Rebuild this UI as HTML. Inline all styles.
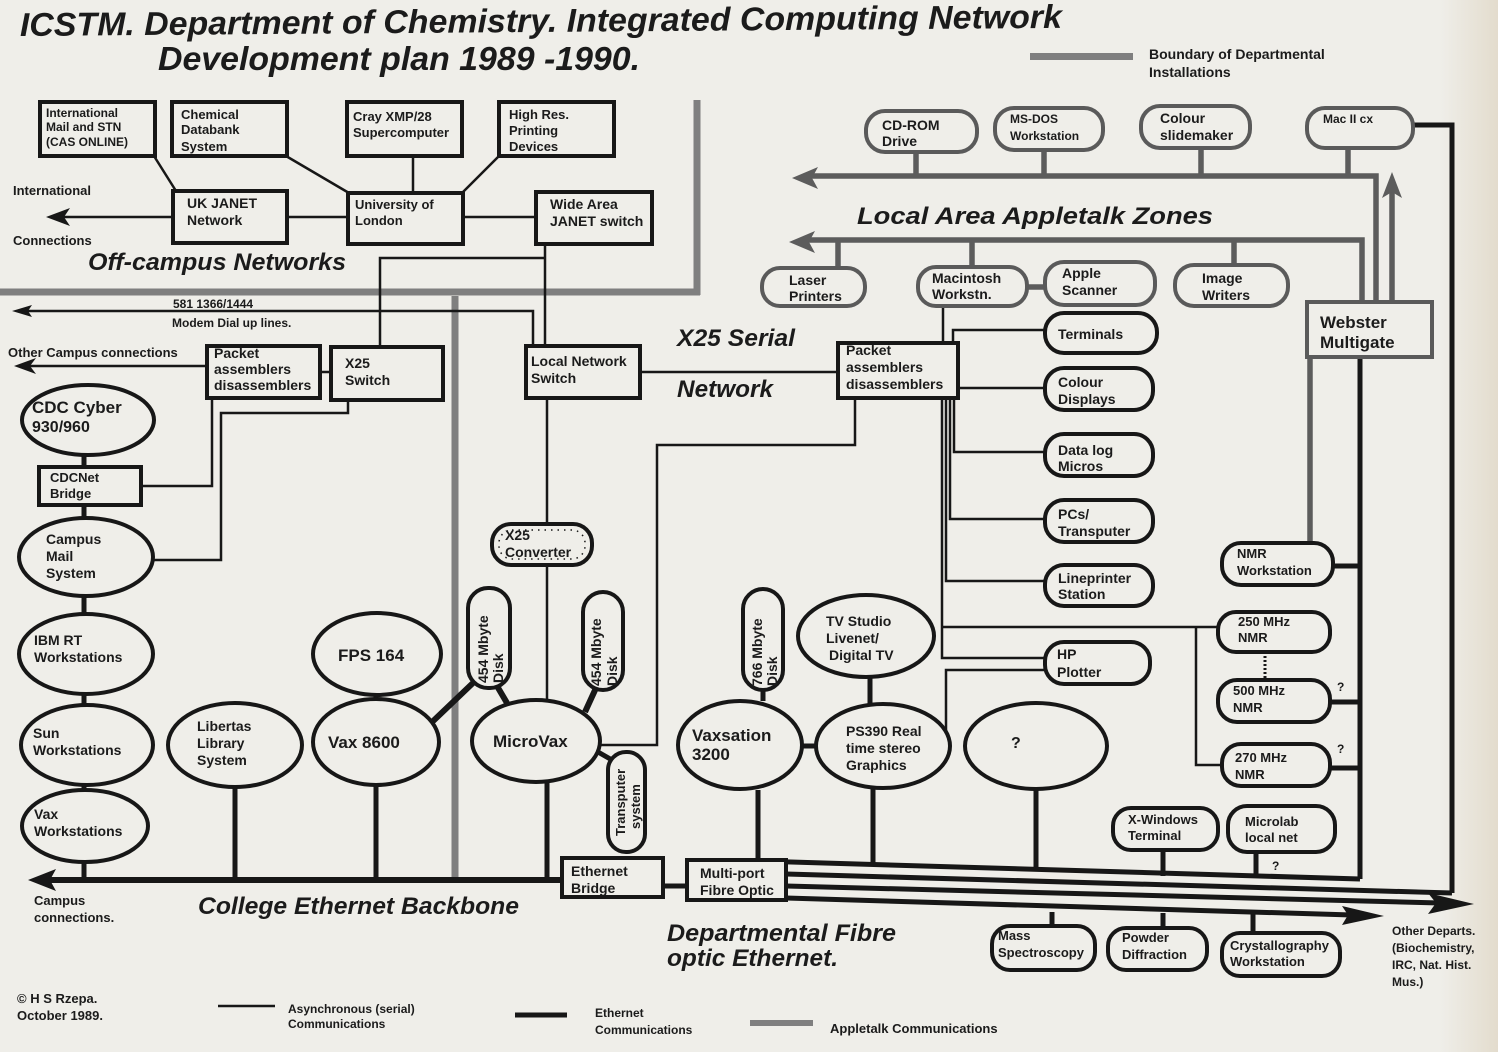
<!DOCTYPE html>
<html><head><meta charset="utf-8"><style>
html,body{margin:0;padding:0;background:#efeee9;}
svg{display:block}
text{font-family:"Liberation Sans",Arial,sans-serif;font-weight:bold;fill:#1b1b1b}
.it{font-style:italic}
.s{fill:none;stroke:#171717;stroke-width:2.5}
.e{fill:none;stroke:#171717;stroke-width:5}
.g{fill:none;stroke:#5c5c5c;stroke-width:5.5}
.bd{fill:none;stroke:#7f7f7f;stroke-width:7}
.bx{fill:#efeee9;stroke:#171717;stroke-width:4}
.gx{fill:#efeee9;stroke:#5a5a5a;stroke-width:4}
.t13{font-size:13px}.t12{font-size:12px}.t14{font-size:14px}.t15{font-size:15px}.t16{font-size:16px}.t17{font-size:17px}
</style></head><body>
<svg width="1498" height="1052" viewBox="0 0 1498 1052" xmlns="http://www.w3.org/2000/svg">
<defs>
<linearGradient id="edge" x1="0" x2="1" y1="0" y2="0"><stop offset="0" stop-color="#efeee9"/><stop offset="1" stop-color="#e3dccd"/></linearGradient>
</defs>
<rect width="1498" height="1052" fill="#efeee9"/>
<rect x="1440" width="58" height="1052" fill="url(#edge)"/>

<!-- Title -->
<g transform="rotate(-0.45 20 36)">
<text class="it" x="20" y="36" font-size="33" textLength="1042" lengthAdjust="spacingAndGlyphs">ICSTM. Department of Chemistry. Integrated Computing Network</text>
</g>
<text class="it" x="158" y="70" font-size="33" textLength="482" lengthAdjust="spacingAndGlyphs">Development plan  1989 -1990.</text>
<rect x="1030" y="53" width="103" height="7" fill="#7f7f7f"/>
<text class="t14" x="1149" y="59">Boundary of Departmental</text>
<text class="t14" x="1149" y="77">Installations</text>

<!-- Boundaries -->
<path class="bd" d="M697,100 L697,295"/>
<path class="bd" d="M0,292 L700,292"/>
<path class="bd" d="M455,296 L455,882"/>

<!-- Off-campus connectors -->
<path class="s" d="M154,156 L176,191 M286,156 L349,193 M413,156 L413,193 M499,156 L462,193"/>
<path class="s" d="M173,217 L60,217 M287,217 L348,217 M463,217 L536,217"/>
<polygon points="46,217 70,208 64,217 70,226" fill="#171717"/>
<path class="s" d="M545,244 L545,346 M545,258 L380,258 L380,347"/>
<path class="s" d="M533,346 L533,311 L24,311"/>
<polygon points="12,311 32,305 28,311 32,317" fill="#171717"/>
<path class="s" d="M207,366 L26,366"/>
<polygon points="14,366 36,358 30,366 36,374" fill="#171717"/>
<path class="s" d="M320,372 L331,372"/>
<path class="s" d="M348,400 L348,413 L221,413 L221,560 L153,560"/>
<path class="s" d="M212,398 L212,486 L141,486"/>

<!-- Left column links -->
<path class="e" d="M84,455 L84,467 M84,505 L84,518 M84,597 L84,613 M84,695 L84,705 M84,785 L84,790 M84,862 L84,880"/>
<!-- Backbone -->
<path d="M48,880 L562,880" stroke="#171717" stroke-width="6"/>
<polygon points="28,880 56,869 50,880 56,891" fill="#171717"/>
<path class="e" d="M235,787 L235,880 M376,695 L376,700 M376,785 L376,880"/>
<path d="M430,724 L474,682 M497,686 L507,703 M596,688 L585,712" stroke="#171717" stroke-width="6"/>
<path class="s" d="M547,398 L547,700"/>
<path class="e" d="M547,782 L547,880 M598,752 L612,760"/>
<path class="s" d="M600,745 L657,745 L657,445 L855,445 L855,398"/>
<path class="s" d="M640,372 L838,372"/>
<path class="e" d="M663,886 L687,886 M763,690 L763,701 M758,790 L758,862 M800,746 L817,746 M870,678 L870,705 M873,787 L873,866 M1036,789 L1036,870"/>

<!-- Fibre lines -->
<path class="e" d="M757,861 L1360,879"/>
<path class="e" d="M786,874 L1452,893"/>
<path class="e" d="M786,886 L1440,903"/>
<polygon points="1474,904 1428,893 1436,903 1428,914" fill="#171717"/>
<path class="e" d="M786,898 L1352,915"/>
<polygon points="1384,916 1342,906 1348,915 1342,925" fill="#171717"/>
<path class="e" d="M1163,850 L1163,876 M1256,852 L1256,878 M1052,912 L1052,928 M1163,913 L1163,930 M1253,914 L1253,934"/>

<!-- Right side verticals -->
<path class="e" d="M1360,357 L1360,879 M1333,566 L1360,566 M1330,702 L1360,702 M1330,768 L1360,768"/>
<path class="e" d="M1413,125 L1452,125 L1452,893"/>

<!-- Appletalk lines -->
<path class="g" d="M1310,357 L1310,545"/>
<path class="g" d="M808,176 L1376,176 L1376,303"/>
<polygon points="792,178 818,167 812,178 818,189" fill="#5c5c5c"/>
<path class="g" d="M806,240 L1362,240 L1362,303"/>
<polygon points="789,242 815,231 809,242 815,253" fill="#5c5c5c"/>
<path class="g" d="M1392,303 L1392,190"/>
<polygon points="1392,172 1382,198 1392,192 1402,198" fill="#5c5c5c"/>
<path class="g" d="M916,152 L916,176 M1044,150 L1044,176 M1201,148 L1201,176 M1348,148 L1348,176 M838,240 L838,268 M972,240 L972,268 M1234,240 L1234,266 M1027,287 L1045,287"/>

<!-- Serial connectors from packet box (right) -->
<path class="s" d="M943,306 L943,343"/>
<path class="s" d="M953,343 L953,330 L1045,330"/>
<path class="s" d="M958,388 L1045,388"/>
<path class="s" d="M954,398 L954,452 L1045,452"/>
<path class="s" d="M950,398 L950,519 L1045,519"/>
<path class="s" d="M946,398 L946,581 L1045,581"/>
<path class="s" d="M942,398 L942,658 L1045,658"/>
<path class="s" d="M942,627 L1218,627"/>
<path class="s" d="M1045,670 L946,670 L946,731"/>
<path class="s" d="M1196,627 L1196,765 L1222,765"/>
<path d="M1265,652 L1265,680" stroke="#171717" stroke-width="3" stroke-dasharray="2,2"/>

<!-- ===== Nodes ===== -->
<!-- Top-left boxes -->
<rect class="bx" x="40" y="102" width="115" height="54"/>
<text class="t12" x="46" y="117">International</text>
<text class="t12" x="46" y="131">Mail  and STN</text>
<text class="t12" x="46" y="146">(CAS ONLINE)</text>
<rect class="bx" x="172" y="102" width="115" height="54"/>
<text class="t13" x="181" y="119">Chemical</text>
<text class="t13" x="181" y="134">Databank</text>
<text class="t13" x="181" y="151">System</text>
<rect class="bx" x="347" y="102" width="115" height="54"/>
<text class="t13" x="353" y="121">Cray XMP/28</text>
<text class="t13" x="353" y="137">Supercomputer</text>
<rect class="bx" x="499" y="102" width="115" height="54"/>
<text class="t13" x="509" y="119">High Res.</text>
<text class="t13" x="509" y="135">Printing</text>
<text class="t13" x="509" y="151">Devices</text>
<rect class="bx" x="173" y="191" width="114" height="52"/>
<text class="t14" x="187" y="208">UK JANET</text>
<text class="t14" x="187" y="225">Network</text>
<rect class="bx" x="348" y="193" width="115" height="51"/>
<text class="t13" x="355" y="209">University of</text>
<text class="t13" x="355" y="225">London</text>
<rect class="bx" x="536" y="192" width="116" height="52"/>
<text class="t14" x="550" y="209">Wide Area</text>
<text class="t14" x="550" y="226">JANET switch</text>

<text class="t13" x="13" y="195">International</text>
<text class="t13" x="13" y="245">Connections</text>
<text class="it" x="88" y="270" font-size="24" textLength="258" lengthAdjust="spacingAndGlyphs">Off-campus Networks</text>
<text class="t12" x="173" y="308">581 1366/1444</text>
<text class="t12" x="172" y="327">Modem Dial up lines.</text>
<text class="t13" x="8" y="357">Other Campus connections</text>

<rect class="bx" x="207" y="346" width="113" height="52"/>
<text class="t14" x="214" y="358">Packet</text>
<text class="t14" x="214" y="374">assemblers</text>
<text class="t14" x="214" y="390">disassemblers</text>
<rect class="bx" x="331" y="347" width="112" height="53"/>
<text class="t14" x="345" y="368">X25</text>
<text class="t14" x="345" y="385">Switch</text>
<rect class="bx" x="526" y="346" width="114" height="52"/>
<text class="t14" x="531" y="366">Local Network</text>
<text class="t14" x="531" y="383">Switch</text>
<text class="it" x="677" y="346" font-size="24" textLength="118" lengthAdjust="spacingAndGlyphs">X25 Serial</text>
<text class="it" x="677" y="397" font-size="24" textLength="96" lengthAdjust="spacingAndGlyphs">Network</text>

<!-- Left column -->
<ellipse class="bx" cx="88" cy="420" rx="66" ry="35"/>
<text class="t17" x="32" y="413">CDC Cyber</text>
<text class="t16" x="32" y="432">930/960</text>
<rect class="bx" x="39" y="467" width="102" height="38"/>
<text class="t13" x="50" y="482">CDCNet</text>
<text class="t13" x="50" y="498">Bridge</text>
<ellipse class="bx" cx="86" cy="557" rx="67" ry="39"/>
<text class="t14" x="46" y="544">Campus</text>
<text class="t14" x="46" y="561">Mail</text>
<text class="t14" x="46" y="578">System</text>
<ellipse class="bx" cx="86" cy="654" rx="67" ry="40"/>
<text class="t14" x="34" y="645">IBM RT</text>
<text class="t14" x="34" y="662">Workstations</text>
<ellipse class="bx" cx="87" cy="745" rx="66" ry="40"/>
<text class="t14" x="33" y="738">Sun</text>
<text class="t14" x="33" y="755">Workstations</text>
<ellipse class="bx" cx="85" cy="826" rx="63" ry="36"/>
<text class="t14" x="34" y="819">Vax</text>
<text class="t14" x="34" y="836">Workstations</text>
<text class="t13" x="34" y="905">Campus</text>
<text class="t13" x="34" y="922">connections.</text>
<text class="it" x="198" y="914" font-size="24" textLength="321" lengthAdjust="spacingAndGlyphs">College Ethernet Backbone</text>

<ellipse class="bx" cx="235" cy="745" rx="67" ry="42"/>
<text class="t14" x="197" y="731">Libertas</text>
<text class="t14" x="197" y="748">Library</text>
<text class="t14" x="197" y="765">System</text>
<ellipse class="bx" cx="377" cy="654" rx="64" ry="41"/>
<text class="t17" x="338" y="661">FPS 164</text>
<ellipse class="bx" cx="376" cy="742" rx="63" ry="43"/>
<text class="t17" x="328" y="748">Vax 8600</text>

<!-- Disks -->
<rect class="bx" x="468" y="588" width="42" height="100" rx="20"/>
<text class="t14" transform="translate(488,683) rotate(-90)">454 Mbyte</text>
<text class="t14" transform="translate(503,683) rotate(-90)">Disk</text>
<rect class="bx" x="583" y="592" width="40" height="98" rx="20"/>
<text class="t14" transform="translate(601,686) rotate(-90)">454 Mbyte</text>
<text class="t14" transform="translate(617,686) rotate(-90)">Disk</text>
<rect class="bx" x="492" y="524" width="100" height="41" rx="19"/>
<rect x="499" y="530" width="86" height="29" rx="13" fill="none" stroke="#171717" stroke-width="1.5" stroke-dasharray="1.5,5"/>
<text class="t14" x="505" y="540">X25</text>
<text class="t14" x="505" y="557">Converter</text>
<ellipse class="bx" cx="536" cy="741" rx="64" ry="41"/>
<text class="t17" x="493" y="747">MicroVax</text>
<rect class="bx" x="608" y="752" width="37" height="100" rx="18"/>
<text class="t13" transform="translate(625,836) rotate(-90)">Transputer</text>
<text class="t13" transform="translate(640,829) rotate(-90)">system</text>

<rect class="bx" x="562" y="858" width="101" height="39"/>
<text class="t14" x="571" y="876">Ethernet</text>
<text class="t14" x="571" y="893">Bridge</text>
<rect class="bx" x="687" y="860" width="99" height="40"/>
<text class="t14" x="700" y="878">Multi-port</text>
<text class="t14" x="700" y="895">Fibre Optic</text>
<text class="it" x="667" y="941" font-size="24" textLength="229" lengthAdjust="spacingAndGlyphs">Departmental Fibre</text>
<text class="it" x="667" y="966" font-size="24" textLength="171" lengthAdjust="spacingAndGlyphs">optic Ethernet.</text>

<rect class="bx" x="743" y="589" width="40" height="101" rx="20"/>
<text class="t14" transform="translate(762,686) rotate(-90)">766 Mbyte</text>
<text class="t14" transform="translate(777,686) rotate(-90)">Disk</text>
<ellipse class="bx" cx="740" cy="745" rx="62" ry="44"/>
<text class="t17" x="692" y="741">Vaxsation</text>
<text class="t17" x="692" y="760">3200</text>
<ellipse class="bx" cx="866" cy="636" rx="68" ry="41"/>
<text class="t14" x="826" y="626">TV Studio</text>
<text class="t14" x="826" y="643">Livenet/</text>
<text class="t14" x="829" y="660">Digital TV</text>
<ellipse class="bx" cx="883" cy="746" rx="67" ry="42"/>
<text class="t14" x="846" y="736">PS390 Real</text>
<text class="t14" x="846" y="753">time  stereo</text>
<text class="t14" x="846" y="770">Graphics</text>
<ellipse class="bx" cx="1036" cy="746" rx="71" ry="43"/>
<text class="t16" x="1011" y="748">?</text>

<!-- Packet box right -->
<rect class="bx" x="838" y="343" width="120" height="55"/>
<text class="t14" x="846" y="355">Packet</text>
<text class="t14" x="846" y="372">assemblers</text>
<text class="t14" x="846" y="389">disassemblers</text>

<!-- Serial devices -->
<rect class="bx" x="1045" y="313" width="112" height="40" rx="19"/>
<text class="t14" x="1058" y="339">Terminals</text>
<rect class="bx" x="1045" y="368" width="108" height="42" rx="19"/>
<text class="t14" x="1058" y="387">Colour</text>
<text class="t14" x="1058" y="404">Displays</text>
<rect class="bx" x="1045" y="434" width="108" height="42" rx="19"/>
<text class="t14" x="1058" y="455">Data log</text>
<text class="t14" x="1058" y="471">Micros</text>
<rect class="bx" x="1045" y="500" width="108" height="42" rx="19"/>
<text class="t14" x="1058" y="519">PCs/</text>
<text class="t14" x="1058" y="536">Transputer</text>
<rect class="bx" x="1045" y="565" width="108" height="41" rx="19"/>
<text class="t14" x="1058" y="583">Lineprinter</text>
<text class="t14" x="1058" y="599">Station</text>
<rect class="bx" x="1045" y="642" width="105" height="42" rx="19"/>
<text class="t14" x="1057" y="659">HP</text>
<text class="t14" x="1057" y="677">Plotter</text>

<!-- NMR -->
<rect class="bx" x="1222" y="543" width="111" height="42" rx="19"/>
<text class="t13" x="1237" y="558">NMR</text>
<text class="t13" x="1237" y="575">Workstation</text>
<rect class="bx" x="1218" y="612" width="112" height="40" rx="18"/>
<text class="t13" x="1238" y="626">250 MHz</text>
<text class="t13" x="1238" y="642">NMR</text>
<rect class="bx" x="1218" y="680" width="112" height="42" rx="19"/>
<text class="t13" x="1233" y="695">500 MHz</text>
<text class="t13" x="1233" y="712">NMR</text>
<text class="t12" x="1337" y="691">?</text>
<rect class="bx" x="1222" y="744" width="108" height="42" rx="19"/>
<text class="t13" x="1235" y="762">270 MHz</text>
<text class="t13" x="1235" y="779">NMR</text>
<text class="t12" x="1337" y="753">?</text>

<rect class="bx" x="1113" y="808" width="105" height="42" rx="18"/>
<text class="t13" x="1128" y="824">X-Windows</text>
<text class="t13" x="1128" y="840">Terminal</text>
<rect class="bx" x="1228" y="806" width="107" height="46" rx="19"/>
<text class="t13" x="1245" y="826">Microlab</text>
<text class="t13" x="1245" y="842">local net</text>
<text class="t12" x="1272" y="870">?</text>

<rect class="bx" x="992" y="926" width="103" height="44" rx="18"/>
<text class="t13" x="998" y="940">Mass</text>
<text class="t13" x="998" y="957">Spectroscopy</text>
<rect class="bx" x="1108" y="928" width="99" height="42" rx="18"/>
<text class="t13" x="1122" y="942">Powder</text>
<text class="t13" x="1122" y="959">Diffraction</text>
<rect class="bx" x="1222" y="933" width="118" height="43" rx="18"/>
<text class="t13" x="1230" y="950">Crystallography</text>
<text class="t13" x="1230" y="966">Workstation</text>
<text class="t12" x="1392" y="935">Other Departs.</text>
<text class="t12" x="1392" y="952">(Biochemistry,</text>
<text class="t12" x="1392" y="969">IRC, Nat. Hist.</text>
<text class="t12" x="1392" y="986">Mus.)</text>

<!-- Appletalk nodes -->
<rect class="gx" x="866" y="111" width="111" height="41" rx="19"/>
<text class="t14" x="882" y="130">CD-ROM</text>
<text class="t14" x="882" y="146">Drive</text>
<rect class="gx" x="995" y="108" width="108" height="42" rx="19"/>
<text class="t12" x="1010" y="123">MS-DOS</text>
<text class="t12" x="1010" y="140">Workstation</text>
<rect class="gx" x="1141" y="106" width="109" height="42" rx="19"/>
<text class="t14" x="1160" y="123">Colour</text>
<text class="t14" x="1160" y="140">slidemaker</text>
<rect class="gx" x="1307" y="108" width="106" height="40" rx="18"/>
<text class="t12" x="1323" y="123">Mac II  cx</text>
<text class="it" x="857" y="224" font-size="24" textLength="356" lengthAdjust="spacingAndGlyphs">Local Area Appletalk  Zones</text>
<rect class="gx" x="762" y="268" width="103" height="38" rx="18"/>
<text class="t14" x="789" y="285">Laser</text>
<text class="t14" x="789" y="301">Printers</text>
<rect class="gx" x="918" y="267" width="109" height="39" rx="18"/>
<text class="t14" x="932" y="283">Macintosh</text>
<text class="t14" x="932" y="299">Workstn.</text>
<rect class="gx" x="1045" y="262" width="110" height="43" rx="19"/>
<text class="t14" x="1062" y="278">Apple</text>
<text class="t14" x="1062" y="295">Scanner</text>
<rect class="gx" x="1175" y="265" width="113" height="41" rx="19"/>
<text class="t14" x="1202" y="283">Image</text>
<text class="t14" x="1202" y="300">Writers</text>
<rect class="gx" x="1307" y="302" width="125" height="55"/>
<text class="t17" x="1320" y="328">Webster</text>
<text class="t17" x="1320" y="348">Multigate</text>

<!-- Legend -->
<text class="t13" x="17" y="1003">© H S  Rzepa.</text>
<text class="t13" x="17" y="1020">October 1989.</text>
<path d="M218,1006 L275,1006" stroke="#171717" stroke-width="2.5"/>
<text class="t12" x="288" y="1013">Asynchronous (serial)</text>
<text class="t12" x="288" y="1028">Communications</text>
<path d="M515,1015 L567,1015" stroke="#171717" stroke-width="5"/>
<text class="t12" x="595" y="1017">Ethernet</text>
<text class="t12" x="595" y="1034">Communications</text>
<rect x="750" y="1020" width="63" height="6" fill="#7f7f7f"/>
<text class="t13" x="830" y="1033">Appletalk Communications</text>
</svg>
</body></html>
